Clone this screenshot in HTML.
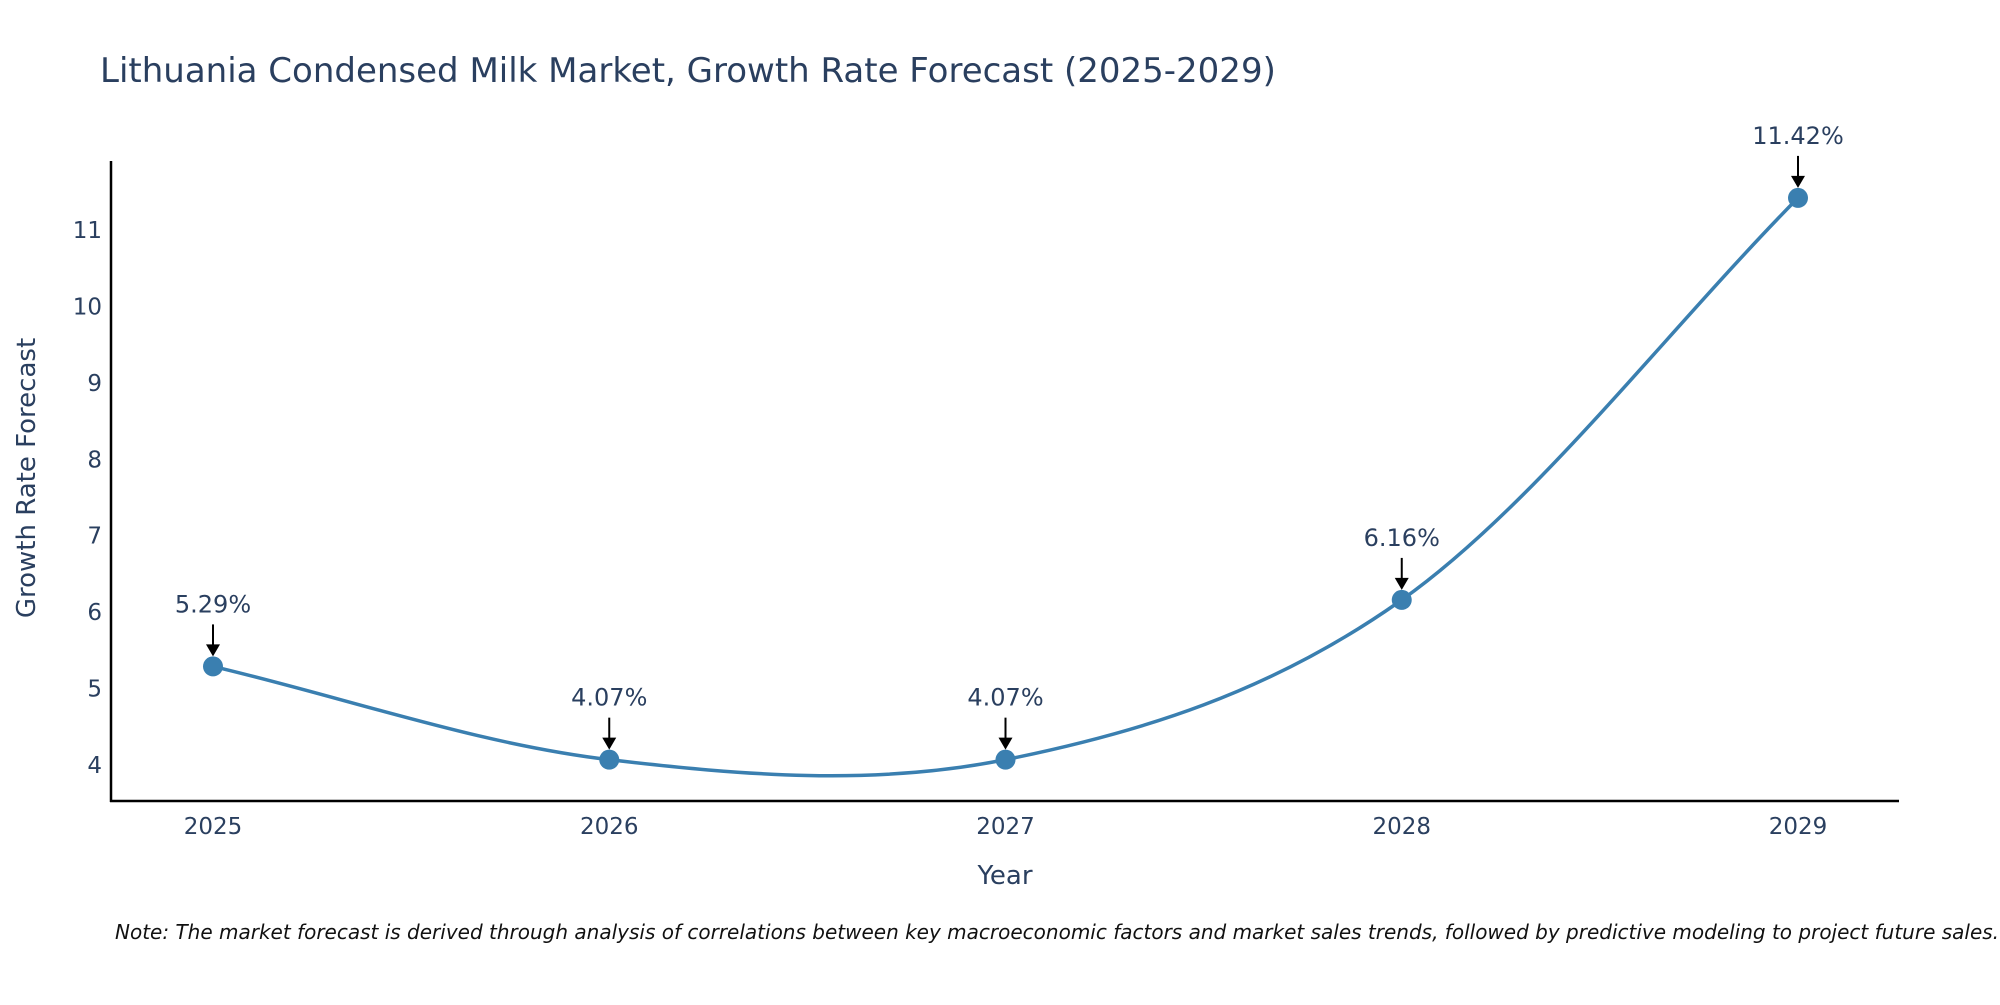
<!DOCTYPE html>
<html><head><meta charset="utf-8"><style>
body{margin:0;background:#fff;}
svg text{font-family:"DejaVu Sans","Liberation Sans",sans-serif;fill:#2a3f5f;}
</style></head><body>
<svg id="chart" width="2000" height="1000" xmlns="http://www.w3.org/2000/svg">
<text x="100" y="82" font-size="34">Lithuania Condensed Milk Market, Growth Rate Forecast (2025-2029)</text>
<g id="yticks"></g>
<g id="xticks"></g>
<line x1="111" y1="161" x2="111" y2="802" stroke="#000" stroke-width="2.5"/>
<line x1="110" y1="801" x2="1899" y2="801" stroke="#000" stroke-width="2.5"/>
<path id="curve" fill="none" stroke="#3a7fb0" stroke-width="3.5"/>
<g id="marks"></g>
<g id="annos"></g>
<text transform="translate(35,478) rotate(-90)" text-anchor="middle" font-size="26">Growth Rate Forecast</text>
<text x="1005" y="884" text-anchor="middle" font-size="26">Year</text>
<text x="115" y="939" font-size="20" font-style="italic" style="fill:#111">Note: The market forecast is derived through analysis of correlations between key macroeconomic factors and market sales trends, followed by predictive modeling to project future sales.</text>
</svg>
<script>
const years=["2025","2026","2027","2028","2029"];
const values=[5.29,4.07,4.07,6.16,11.42];
const labels=["5.29%","4.07%","4.07%","6.16%","11.42%"];
const yTicks=[4,5,6,7,8,9,10,11];
const NS="http://www.w3.org/2000/svg";
function xs(i){return 213+i*(1798-213)/(years.length-1);}
function ys(v){return 765-(v-4)*(765-230)/7;}
function mk(t,a,p){const e=document.createElementNS(NS,t);for(const k in a)e.setAttribute(k,a[k]);p.appendChild(e);return e;}
const yt=document.getElementById('yticks');
yTicks.forEach(v=>{const t=mk('text',{x:102,y:ys(v)+8,'text-anchor':'end','font-size':23},yt);t.textContent=v;

});
const xt=document.getElementById('xticks');
years.forEach((y,i)=>{const t=mk('text',{x:xs(i),y:834,'text-anchor':'middle','font-size':23},xt);t.textContent=y;

});
const P=values.map((v,i)=>[xs(i),ys(v)]);
let d=`M${P[0][0]},${P[0][1]}`;
for(let i=0;i<P.length-1;i++){
 const p0=P[Math.max(0,i-1)],p1=P[i],p2=P[i+1],p3=P[Math.min(P.length-1,i+2)];
 const s0=i===0?1:0.5, s1=i+2>=P.length?1:0.5;
 const m1=[(p2[0]-p0[0])*s0,(p2[1]-p0[1])*s0], m2=[(p3[0]-p1[0])*s1,(p3[1]-p1[1])*s1];
 d+=` C${p1[0]+m1[0]/3},${p1[1]+m1[1]/3} ${p2[0]-m2[0]/3},${p2[1]-m2[1]/3} ${p2[0]},${p2[1]}`;
}
document.getElementById('curve').setAttribute('d',d);
const mg=document.getElementById('marks'),ag=document.getElementById('annos');
P.forEach((p,i)=>{
 const c=mk('circle',{cx:p[0],cy:p[1],r:10,fill:'#3a7fb0'},mg);
 
 
 const l=mk('line',{x1:p[0],y1:p[1]-42,x2:p[0],y2:p[1]-20,stroke:'#000','stroke-width':2},ag);
 
 
 const h=mk('polygon',{points:`${p[0]-7},${p[1]-22} ${p[0]+7},${p[1]-22} ${p[0]},${p[1]-10}`,fill:'#000'},ag);
 
 
 const t=mk('text',{x:p[0],y:p[1]-54,'text-anchor':'middle','font-size':24},ag);t.textContent=labels[i];
 
 
});
</script>
</body></html>
